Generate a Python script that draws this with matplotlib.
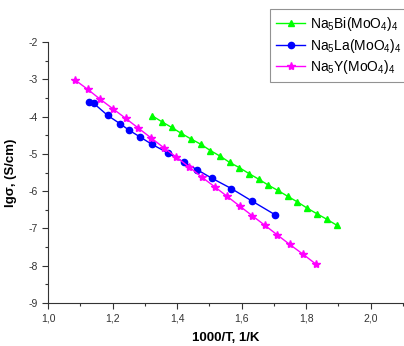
import matplotlib
matplotlib.use("Agg")
import matplotlib.pyplot as plt
from matplotlib.ticker import MultipleLocator, FuncFormatter

plt.rcParams['font.family'] = ['Liberation Sans', 'DejaVu Sans']
plt.rcParams['mathtext.fontset'] = 'custom'
plt.rcParams['mathtext.rm'] = 'Liberation Sans'
plt.rcParams['mathtext.it'] = 'Liberation Sans'
plt.rcParams['mathtext.bf'] = 'Liberation Sans:bold'

# Data
bi_x = [1.323, 1.353, 1.383, 1.413, 1.443, 1.473, 1.503, 1.533, 1.563, 1.593,
        1.623, 1.653, 1.683, 1.712, 1.743, 1.773, 1.802, 1.832, 1.863, 1.894]
bi_y = [-3.98, -4.14, -4.29, -4.45, -4.60, -4.74, -4.91, -5.06, -5.23, -5.37,
        -5.53, -5.68, -5.84, -5.98, -6.14, -6.29, -6.45, -6.60, -6.75, -6.91]

la_x = [1.128, 1.141, 1.185, 1.223, 1.252, 1.286, 1.321, 1.373, 1.420, 1.461,
        1.507, 1.568, 1.631, 1.703]
la_y = [-3.61, -3.64, -3.97, -4.19, -4.37, -4.55, -4.74, -4.98, -5.22, -5.42,
        -5.65, -5.93, -6.26, -6.63]

y_x = [1.084, 1.123, 1.161, 1.201, 1.241, 1.280, 1.319, 1.358, 1.398, 1.437,
       1.476, 1.516, 1.555, 1.594, 1.633, 1.671, 1.710, 1.749, 1.790, 1.829]
y_y = [-3.02, -3.27, -3.53, -3.79, -4.05, -4.31, -4.57, -4.83, -5.09, -5.35,
       -5.62, -5.88, -6.14, -6.40, -6.66, -6.91, -7.17, -7.43, -7.69, -7.95]

labels = [r'Na$_5$Bi(MoO$_4$)$_4$', r'Na$_5$La(MoO$_4$)$_4$', r'Na$_5$Y(MoO$_4$)$_4$']

fig = plt.figure(figsize=(4.04, 3.46), dpi=100)
ax = fig.add_axes([48/404, 1-303/346, (403-48)/404, (303-42)/346])

ax.plot(bi_x, bi_y, color='#00FF00', marker='^', markersize=5, lw=1, label=labels[0])
ax.plot(la_x, la_y, color='#0000FF', marker='o', markersize=4.5, lw=1, label=labels[1])
ax.plot(y_x, y_y, color='#FF00FF', marker='*', markersize=6, lw=1, label=labels[2])

ax.set_xlim(1.0, 2.1)
ax.set_ylim(-9, -2)
ax.xaxis.set_major_locator(MultipleLocator(0.2))
ax.xaxis.set_minor_locator(MultipleLocator(0.1))
ax.yaxis.set_major_locator(MultipleLocator(1))
ax.yaxis.set_minor_locator(MultipleLocator(0.5))
ax.xaxis.set_major_formatter(FuncFormatter(lambda v, p: f"{v:.1f}".replace('.', ',')))
ax.yaxis.set_major_formatter(FuncFormatter(lambda v, p: f"{v:.0f}"))
for s in ['top', 'right']:
    ax.spines[s].set_visible(False)
for s in ['left', 'bottom']:
    ax.spines[s].set_color('#333333')
ax.tick_params(which='major', direction='out', length=4, width=0.8, labelsize=7.5, color='#333333', labelcolor='#333333')
ax.tick_params(which='minor', direction='out', length=2.5, width=0.8, color='#333333')

ax.set_xlabel('1000/T, 1/K', fontsize=9.5, fontweight='bold', labelpad=6)
ax.set_ylabel('lgσ, (S/cm)', fontsize=9.5, fontweight='bold', labelpad=8)

leg = fig.legend(loc='upper left', bbox_to_anchor=(270/404, 1-9/346), fontsize=10,
                 frameon=True, fancybox=False, edgecolor='#777777', borderaxespad=0,
                 handlelength=2.1, labelspacing=0.25, borderpad=0.45, handletextpad=0.3)
leg.get_frame().set_linewidth(0.8)

fig.savefig('out.png', dpi=100)
